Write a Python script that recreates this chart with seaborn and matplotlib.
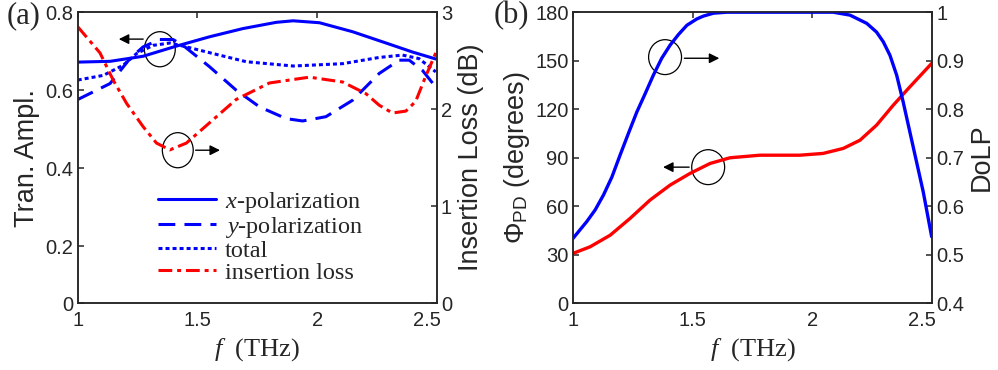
import seaborn as sns
import matplotlib.pyplot as plt
from matplotlib.patches import Ellipse
from matplotlib.transforms import ScaledTranslation

# (a) transmission amplitude
f_xpol = [1.0, 1.135, 1.273, 1.412, 1.551, 1.69, 1.829, 1.9, 2.01, 2.148, 2.288, 2.398, 2.496]
xpol = [0.672, 0.674, 0.687, 0.713, 0.737, 0.758, 0.774, 0.778, 0.773, 0.750, 0.721, 0.698, 0.680]

f_ypol = [1.0, 1.135, 1.218, 1.273, 1.343, 1.398, 1.44, 1.551, 1.662, 1.76, 1.871, 1.94,
          2.037, 2.148, 2.26, 2.343, 2.385, 2.44, 2.496]
ypol = [0.576, 0.617, 0.681, 0.711, 0.730, 0.730, 0.715, 0.660, 0.600, 0.557, 0.527, 0.521,
        0.532, 0.574, 0.643, 0.677, 0.677, 0.651, 0.608]

f_total = [1.0, 1.107, 1.19, 1.246, 1.315, 1.385, 1.454, 1.565, 1.704, 1.9, 2.107, 2.26,
           2.357, 2.426, 2.496]
total = [0.626, 0.638, 0.664, 0.694, 0.715, 0.721, 0.711, 0.694, 0.673, 0.662, 0.668, 0.684,
         0.690, 0.681, 0.647]

f_loss = [1.0, 1.093, 1.148, 1.204, 1.273, 1.329, 1.385, 1.454, 1.551, 1.662, 1.801, 1.968,
          2.107, 2.204, 2.26, 2.315, 2.371, 2.412, 2.454, 2.496]
loss = [2.85, 2.58, 2.30, 2.06, 1.82, 1.65, 1.58, 1.65, 1.86, 2.10, 2.27, 2.33,
        2.28, 2.16, 2.04, 1.96, 1.98, 2.08, 2.34, 2.58]

# (b) DoLP and phase difference
f_dolp = [1.0, 1.058, 1.093, 1.128, 1.163, 1.197, 1.232, 1.267, 1.302, 1.336, 1.371, 1.406,
          1.441, 1.476, 1.517, 1.545, 1.587, 1.642, 1.78, 2.087, 2.157, 2.227, 2.268, 2.296,
          2.324, 2.352, 2.379, 2.407, 2.435, 2.463, 2.498]
dolp = [0.533, 0.568, 0.592, 0.623, 0.660, 0.705, 0.750, 0.794, 0.832, 0.870, 0.905, 0.932,
        0.954, 0.973, 0.986, 0.992, 0.998, 1.0, 1.0, 1.0, 0.994, 0.977, 0.959, 0.939,
        0.911, 0.870, 0.815, 0.753, 0.691, 0.629, 0.537]

f_phi = [1.0, 1.072, 1.156, 1.239, 1.322, 1.406, 1.489, 1.573, 1.656, 1.781, 1.948,
         2.045, 2.129, 2.199, 2.268, 2.338, 2.407, 2.498]
phi = [30.7, 34.8, 42.0, 52.4, 63.7, 73.0, 80.2, 86.4, 89.9, 91.5, 91.5,
       92.6, 95.7, 100.8, 110.1, 122.5, 133.8, 148.3]

sns.set_style("white")
plt.rcParams['font.family'] = ['Liberation Sans', 'DejaVu Sans']
plt.rcParams['mathtext.fontset'] = 'custom'
plt.rcParams['mathtext.rm'] = 'Liberation Sans'
plt.rcParams['mathtext.it'] = 'Liberation Serif:italic'
plt.rcParams['axes.linewidth'] = 1.1

BLUE = '#0000ff'
RED = '#ff0000'
serif = 'Liberation Serif'

fig = plt.figure(figsize=(9.98, 3.7), dpi=100)
ax1 = fig.add_axes([0.0779, 0.181, 0.3597, 0.786])
ax1r = ax1.twinx()
ax2 = fig.add_axes([0.574, 0.181, 0.360, 0.786])
ax2r = ax2.twinx()

lw = 2.2
sns.lineplot(x=f_xpol, y=xpol, ax=ax1, color=BLUE, linewidth=lw, label='$x$-polarization')
sns.lineplot(x=f_ypol, y=ypol, ax=ax1, color=BLUE, linewidth=lw, linestyle=(0, (5.5, 3)),
             label='$y$-polarization')
sns.lineplot(x=f_total, y=total, ax=ax1, color=BLUE, linewidth=lw, linestyle=(0, (1.3, 1.0)),
             label='total')
sns.lineplot(x=f_loss, y=loss, ax=ax1r, color=RED, linewidth=lw,
             linestyle=(0, (4.5, 1.6, 1.3, 1.6)), label='insertion loss')

h1, l1 = ax1.get_legend_handles_labels()
h2, l2 = ax1r.get_legend_handles_labels()
ax1r.get_legend().remove()
ax1.get_legend().remove()
ax1.legend(h1 + h2, l1 + l2, loc='upper left', bbox_to_anchor=(0.224, 0.39),
           frameon=False, handlelength=2.4, handletextpad=0.35, labelspacing=0.0,
           borderaxespad=0, borderpad=0, prop={'family': serif, 'size': 17.5})

sns.lineplot(x=f_phi, y=phi, ax=ax2, color=RED, linewidth=2.4)
sns.lineplot(x=f_dolp, y=dolp, ax=ax2r, color=BLUE, linewidth=2.4)

# axes limits / ticks
ax1.set_xlim(1, 2.5)
ax1.set_ylim(0.054, 0.8)
ax1.set_yticks([0.054, 0.2, 0.4, 0.6, 0.8])
ax1.set_yticklabels(['0', '0.2', '0.4', '0.6', '0.8'])
ax1r.set_ylim(0, 3)
ax1r.set_yticks([0, 1, 2, 3])
ax2.set_xlim(1, 2.5)
ax2.set_ylim(0, 180)
ax2.set_yticks([0, 30, 60, 90, 120, 150, 180])
ax2r.set_ylim(0.4, 1)
ax2r.set_yticks([0.4, 0.5, 0.6, 0.7, 0.8, 0.9, 1])
ax2r.set_yticklabels(['0.4', '0.5', '0.6', '0.7', '0.8', '0.9', '1'])

for a in (ax1, ax2):
    a.set_xticks([1, 1.5, 2, 2.5])
    a.set_xticklabels(['1', '1.5', '2', '2.5'])
    a.tick_params(axis='x', direction='in', top=True, length=4, width=1.1, labelsize=14.5, pad=6)
    a.tick_params(axis='y', direction='in', left=True, right=False, length=4, width=1.1,
                  labelsize=14.5, pad=3)
    a.set_xlabel('$f$  (THz)', fontfamily=serif, fontsize=19, labelpad=4)
    # the last x label sits a little left of its tick in the original
    lab = a.get_xticklabels()[-1]
    lab.set_transform(lab.get_transform() + ScaledTranslation(-10 / 100, 0, fig.dpi_scale_trans))
for a in (ax1r, ax2r):
    a.tick_params(axis='y', direction='in', right=True, length=4, width=1.1, labelsize=14.5, pad=3)

ax1.set_ylabel('Tran. Ampl.', fontsize=19.5, labelpad=4)
ax1r.set_ylabel('Insertion Loss (dB)', fontsize=19.5, labelpad=4)
ax2.set_ylabel(r'Φ$_{\mathrm{PD}}$ (degrees)', fontsize=19.5, labelpad=2)
ax2r.set_ylabel('DoLP', fontsize=19.5, labelpad=3)

fig.text(0.007, 0.958, '(a)', fontfamily=serif, fontsize=22, va='center')
fig.text(0.495, 0.958, '(b)', fontfamily=serif, fontsize=22, va='center')

# circles and arrows marking which axis each curve belongs to
arrow = dict(arrowstyle='-|>', color='black', lw=1.0, mutation_scale=15)
ax1.add_patch(Ellipse((1.343, 0.705), 0.129, 0.09, fill=False, edgecolor='black', lw=0.9))
ax1.annotate('', xy=(1.16, 0.731), xytext=(1.285, 0.731), arrowprops=arrow)
ax1.add_patch(Ellipse((1.418, 0.446), 0.129, 0.09, fill=False, edgecolor='black', lw=0.9))
ax1.annotate('', xy=(1.606, 0.446), xytext=(1.481, 0.446), arrowprops=arrow)

ax2.add_patch(Ellipse((1.385, 152.2), 0.1375, 21.6, fill=False, edgecolor='black', lw=0.9))
ax2.annotate('', xy=(1.623, 151.5), xytext=(1.454, 151.5), arrowprops=arrow)
ax2.add_patch(Ellipse((1.565, 84.1), 0.1375, 21.6, fill=False, edgecolor='black', lw=0.9))
ax2.annotate('', xy=(1.365, 84.1), xytext=(1.497, 84.1), arrowprops=arrow)

fig.savefig('out.png', dpi=100)
